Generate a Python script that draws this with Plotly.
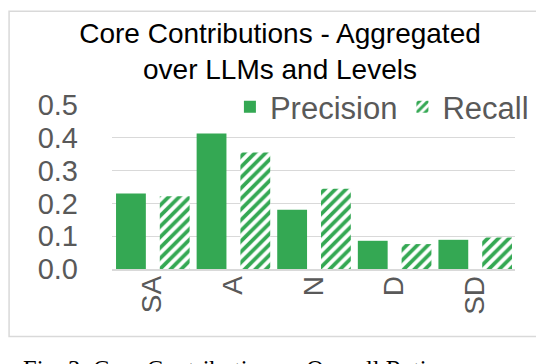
import plotly.graph_objects as go

categories = ["SA", "A", "N", "D", "SD"]
precision = [0.230, 0.413, 0.181, 0.086, 0.089]
recall = [0.222, 0.355, 0.245, 0.076, 0.096]
y_ticks = [0.0, 0.1, 0.2, 0.3, 0.4, 0.5]
title_text = "Core Contributions - Aggregated<br>over LLMs and Levels"
caption_text = "Fig. 3: Core Contributions \u2013 Overall Ratings"

GREEN = "#34A853"
GRID = "#d9d9d9"
TXT = "#595959"
FONT = "Liberation Sans, Arial, sans-serif"

W, H = 544, 364
L, R, T, B = 104, 36.7, 97.4, 103.3
pw = W - L - R
ph = H - T - B

def px_x(p):
    return (p - L) / pw

def px_y(p):
    return (H - B - p) / ph

fig = go.Figure()
fig.add_trace(go.Bar(
    name="Precision", x=categories, y=precision,
    offset=-0.45, width=0.37,
    marker=dict(color=GREEN, line=dict(width=0)),
))
fig.add_trace(go.Bar(
    name="Recall", x=categories, y=recall,
    offset=0.093, width=0.37,
    marker=dict(color=GREEN, line=dict(width=0),
                pattern=dict(shape="/", fgcolor=GREEN, bgcolor="white",
                             size=7.5, solidity=0.5, fillmode="replace")),
))

fig.update_layout(
    width=W, height=H,
    margin=dict(l=L, r=R, t=T, b=B),
    paper_bgcolor="white", plot_bgcolor="white",
    barmode="overlay",
    font=dict(family=FONT, color=TXT),
    title=dict(text=title_text, x=0.5, xref="container", xanchor="center",
               y=1 - 34.5 / H, yref="container", yanchor="top",
               font=dict(size=28, color="#000000", family=FONT)),
    showlegend=True,
    legend=dict(orientation="h", x=px_x(222), xanchor="left",
                y=px_y(99.5), yanchor="middle",
                bgcolor="rgba(0,0,0,0)", font=dict(size=31, color=TXT, family=FONT),
                itemclick=False, traceorder="normal"),
    xaxis=dict(type="category", tickangle=-90, showgrid=False,
               tickfont=dict(size=28, color=TXT, family=FONT),
               ticks="", showline=True, linecolor=GRID, linewidth=1.5,
               ticklabelstandoff=-6, zeroline=False),
    yaxis=dict(range=[0, 0.5], tickvals=y_ticks, tickformat=".1f",
               showgrid=True, gridcolor=GRID, gridwidth=1.3,
               tickfont=dict(size=29, color=TXT, family=FONT),
               ticks="", showline=False, zeroline=False,
               ticklabelstandoff=33),
)

# chart-area border
fig.add_shape(type="rect", xref="paper", yref="paper",
              x0=px_x(1), x1=px_x(542), y0=px_y(328), y1=px_y(4),
              line=dict(color=GRID, width=1.5), fillcolor="rgba(0,0,0,0)",
              layer="below")

# figure caption (cut off at bottom as in the original)
fig.add_annotation(text=caption_text, xref="paper", yref="paper",
                   x=px_x(13), xanchor="left", y=px_y(345), yanchor="top",
                   showarrow=False,
                   font=dict(size=24.5, color="#000000",
                             family="Liberation Serif, Times New Roman, serif"))

fig.write_html("out.html")
